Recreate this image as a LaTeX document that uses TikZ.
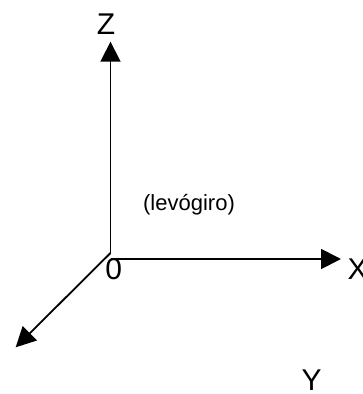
\documentclass[tikz,border=0pt]{standalone}
\usepackage{fontspec}
\setmainfont{Liberation Sans}
\usetikzlibrary{arrows.meta}
\begin{document}
\begin{tikzpicture}[x=1pt,y=-1pt,
  axis/.style={line width=1.8pt,-{Triangle[length=20pt,width=20pt]}},
  biglabel/.style={inner sep=0pt,anchor=base,font=\fontsize{30}{30}\selectfont},
  smalllabel/.style={inner sep=0pt,anchor=base,font=\fontsize{22}{22}\selectfont}]
\useasboundingbox (0,0) rectangle (362,394);
\coordinate (O) at (110.5,253);
\coordinate (Ox) at (110.5,259);
\coordinate (Zend) at (110.5,41.7);
\coordinate (Xend) at (341,259);
\coordinate (Yend) at (15.7,347.3);
\draw[axis] (O) -- (Zend);
\draw[axis] (Ox) -- (Xend);
\draw[axis] (O) -- (Yend);
\node[biglabel] (zl) at (106,34.3) {Z};
\node[biglabel,anchor=base west] (xl) at (347.5,279.5) {X};
\node[biglabel] (yl) at (311.7,390.8) {Y};
\node[biglabel] (ol) at (113.8,279.5) {0};
\node[smalllabel] (lev) at (189,210) {(levógiro)};
\end{tikzpicture}
\end{document}
